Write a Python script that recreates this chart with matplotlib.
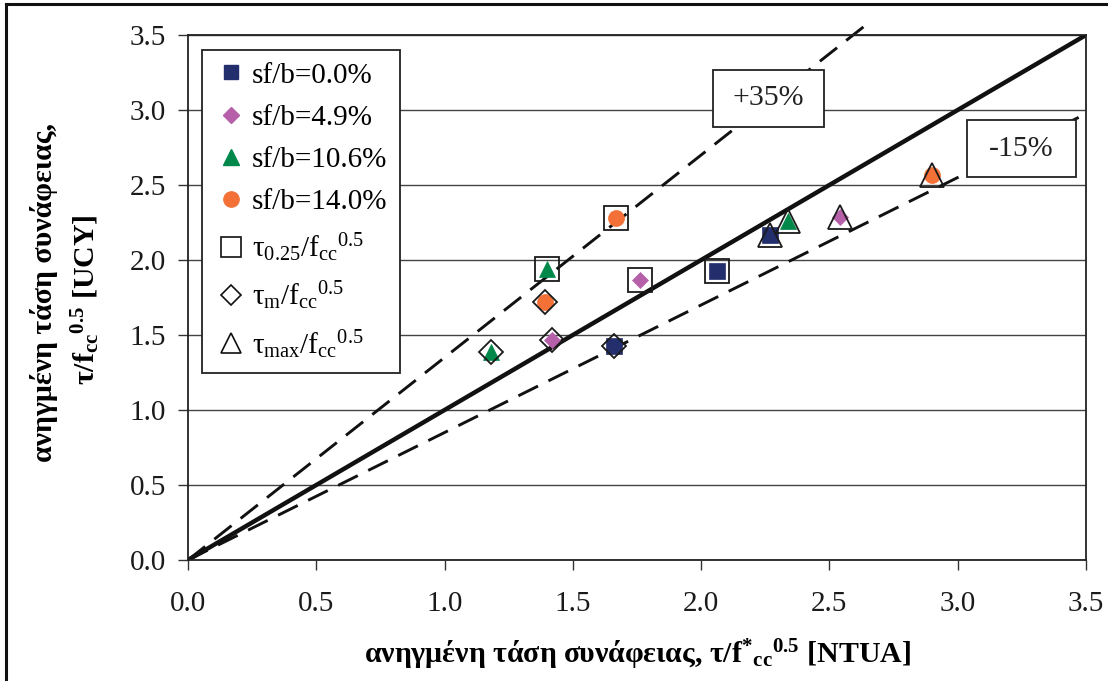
import matplotlib
matplotlib.use('Agg')
import matplotlib.pyplot as plt
from matplotlib.lines import Line2D
from matplotlib.patches import Rectangle

plt.rcParams['font.family'] = ['Liberation Serif', 'DejaVu Serif']
plt.rcParams['mathtext.fontset'] = 'custom'
plt.rcParams['mathtext.rm'] = 'Liberation Serif'
plt.rcParams['mathtext.it'] = 'Liberation Serif:italic'
plt.rcParams['mathtext.bf'] = 'Liberation Serif:bold'

# fibre-ratio groups
groups = ['sf/b=0.0%', 'sf/b=4.9%', 'sf/b=10.6%', 'sf/b=14.0%']
group_colors = ['#232F6D', '#B660AA', '#00874A', '#F37036']
group_markers = ['s', 'D', '^', 'o']

# normalised bond stress, NTUA (x) vs UCY (y), per group
ntua_t025 = [2.06, 1.76, 1.40, 1.67]
ucy_t025 = [1.93, 1.87, 1.94, 2.28]
ntua_tm = [1.66, 1.42, 1.18, 1.39]
ucy_tm = [1.43, 1.47, 1.39, 1.72]
ntua_tmax = [2.27, 2.54, 2.34, 2.90]
ucy_tmax = [2.17, 2.29, 2.26, 2.57]

stress_labels = [r'τ$_{\mathrm{0.25}}$/f$_{\mathrm{cc}}$$^{\mathrm{0.5}}$',
                 r'τ$_{\mathrm{m}}$/f$_{\mathrm{cc}}$$^{\mathrm{0.5}}$',
                 r'τ$_{\mathrm{max}}$/f$_{\mathrm{cc}}$$^{\mathrm{0.5}}$']
stress_markers = ['s', 'D', '^']

# reference lines y = k x
ratio_equal = 1.0
ratio_upper = 1.35
ratio_lower = 0.85
band_labels = ['+35%', '-15%']

ticks = [0.0, 0.5, 1.0, 1.5, 2.0, 2.5, 3.0, 3.5]

fig = plt.figure(figsize=(11.08, 6.81), dpi=100)
ax = fig.add_axes([188 / 1108, 1 - 560 / 681, 898 / 1108, 525 / 681])
ax.set_xlim(0, 3.5)
ax.set_ylim(0, 3.5)
ax.set_xticks(ticks)
ax.set_yticks(ticks)
ax.set_xticklabels([f'{t:.1f}' for t in ticks])
ax.set_yticklabels([f'{t:.1f}' for t in ticks])
ax.tick_params(direction='out', length=7, width=1.0, labelsize=21,
               color='#333333', labelcolor='#1a1a1a')
ax.tick_params(axis='x', pad=15)
ax.tick_params(axis='y', pad=9)
ax.yaxis.grid(True, color='#444444', linewidth=1.0)
ax.set_axisbelow(True)
for s in ax.spines.values():
    s.set_linewidth(1.3)
    s.set_color('#222222')

# reference lines
ax.plot([0, 3.5], [0, 3.5 * ratio_equal], color='#111111', lw=3.2, zorder=2)
xu = 3.58 / ratio_upper
l1, = ax.plot([0, xu], [0, xu * ratio_upper], color='#111111', lw=2.1,
              zorder=2, clip_on=False)
l2, = ax.plot([0, 3.5], [0, 3.5 * ratio_lower], color='#111111', lw=2.1,
              zorder=2)
for ln in (l1, l2):
    ln.set_dashes((7.5, 4))

# filled group markers
fill_sizes = {'s': 11.0, 'D': 8.5, '^': 11.5, 'o': 11.5}
for i in range(len(groups)):
    xs = [ntua_t025[i], ntua_tm[i], ntua_tmax[i]]
    ys = [ucy_t025[i], ucy_tm[i], ucy_tmax[i]]
    m = group_markers[i]
    ax.plot(xs, ys, linestyle='none', marker=m, ms=fill_sizes[m],
            mfc=group_colors[i], mec=group_colors[i], mew=0.5, zorder=3)

# hollow stress-type markers
hollow_sizes = {'s': 17.5, 'D': 12.5, '^': 17.0}
for xs, ys, m in zip([ntua_t025, ntua_tm, ntua_tmax],
                     [ucy_t025, ucy_tm, ucy_tmax], stress_markers):
    ax.plot(xs, ys, linestyle='none', marker=m, ms=hollow_sizes[m],
            mfc='none', mec='#1a1a1a', mew=1.3, zorder=4)

# band labels in boxes
boxes = [((2.046, 2.887), 0.433, 0.38), ((3.036, 2.553), 0.425, 0.38)]
for (xy, w, h), lab in zip(boxes, band_labels):
    ax.add_patch(Rectangle(xy, w, h, facecolor='white', edgecolor='#222222',
                           lw=1.3, zorder=5))
    ax.text(xy[0] + w / 2, xy[1] + h / 2, lab, ha='center', va='center',
            fontsize=21.5, zorder=6, color='#222222')

# legend
handles = []
for c, m in zip(group_colors, group_markers):
    handles.append(Line2D([], [], linestyle='none', marker=m,
                          ms={'s': 10.5, 'D': 8.5, '^': 11, 'o': 11}[m],
                          mfc=c, mec=c))
for m in stress_markers:
    handles.append(Line2D([], [], linestyle='none', marker=m,
                          ms={'s': 14, 'D': 10, '^': 14}[m],
                          mfc='none', mec='#111111', mew=1.2))
leg = ax.legend(handles, groups + stress_labels, loc='upper left',
                bbox_to_anchor=(14 / 898, 1 - 15 / 525), borderaxespad=0,
                fontsize=21, frameon=True, fancybox=False, framealpha=1,
                edgecolor='#222222', labelspacing=0.54, handletextpad=0.15,
                handlelength=1.15, borderpad=0.42)
leg.get_frame().set_linewidth(1.3)
leg.set_zorder(7)

# axis titles
fig.text(637 / 1108, 1 - 655 / 681,
         r'ανηγμένη τάση συνάφειας, τ/f$^{\mathbf{*}}$$_{\mathbf{cc}}$$^{\mathbf{0.5}}$ [NTUA]',
         ha='center', va='center', fontsize=21.5, fontweight='bold')
fig.text(44 / 1108, 1 - 293 / 681, 'ανηγμένη τάση συνάφειας,',
         ha='center', va='center', rotation=90, fontsize=21.5,
         fontweight='bold')
fig.text(86 / 1108, 1 - 300 / 681,
         r'τ/f$_{\mathbf{cc}}$$^{\mathbf{0.5}}$ [UCY]',
         ha='center', va='center', rotation=90, fontsize=21.5,
         fontweight='bold')

# outer frame
fig.add_artist(Line2D([6 / 1108, 6 / 1108], [0, 1 - 4 / 681],
                      transform=fig.transFigure, color='#111111', lw=2.2))
fig.add_artist(Line2D([6 / 1108, 1], [1 - 4 / 681, 1 - 4 / 681],
                      transform=fig.transFigure, color='#111111', lw=2.2))

fig.savefig('out.png', dpi=100)
